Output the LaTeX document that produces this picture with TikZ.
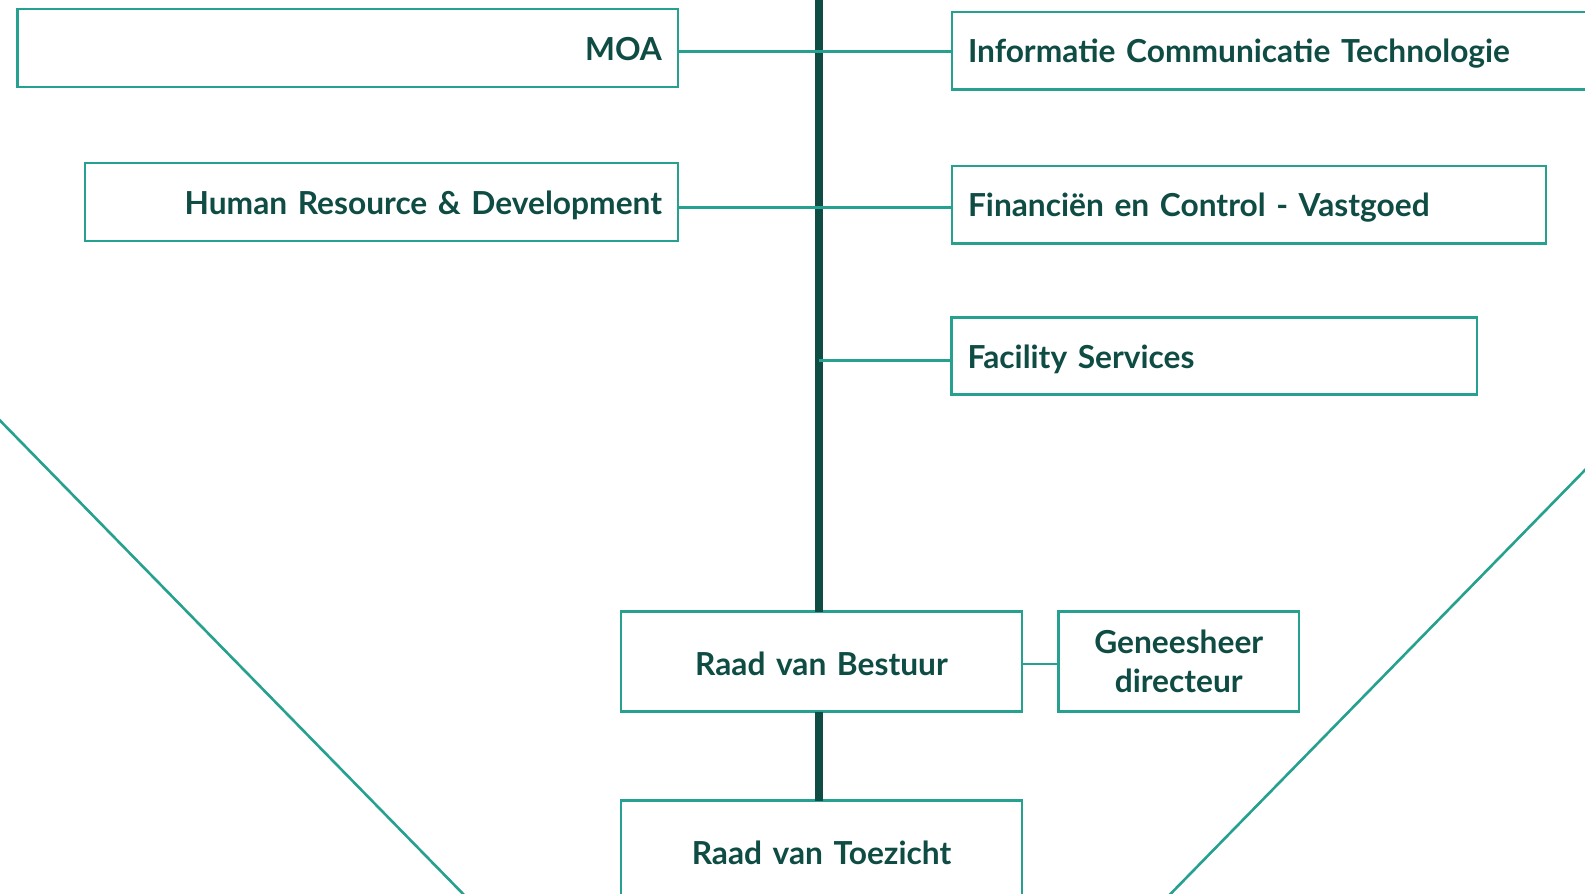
\documentclass[tikz,border=0pt]{standalone}
\usepackage{fontspec}
\setmainfont{Lato}
\definecolor{tealline}{HTML}{26A08F}
\definecolor{darkgreen}{HTML}{0E4C44}
\begin{document}
\begin{tikzpicture}[x=1pt,y=-1pt,
  box/.style={draw=tealline, line width=2.6pt, outer sep=0pt, inner xsep=16pt, inner ysep=0pt,
    font=\fontsize{31.7}{38.4}\selectfont\bfseries, text=darkgreen, anchor=north west},
  onel/.style={text height=28pt, text depth=4pt},
  onelb/.style={text height=31pt, text depth=4pt},
  conn/.style={draw=tealline, line width=2.6pt},
  spine/.style={draw=darkgreen, line width=7.5pt},
  diag/.style={draw=tealline, line width=2.6pt},
]
\useasboundingbox (0,0) rectangle (1585,894);
\clip (0,0) rectangle (1585,894);
\fill[white] (0,0) rectangle (1585,894);

% diagonals
\coordinate (la) at (-10,410.3);
\coordinate (lb) at (470,901);
\coordinate (ra) at (1595,459.8);
\coordinate (rb) at (1163.6,901);
\draw[diag] (la) -- (lb);
\draw[diag] (ra) -- (rb);

% boxes
\node[box,onel,minimum height=78pt,text width=628.5pt,align=right] (moa) at (17.5,9) {MOA};
\node[box,onel,minimum height=77.5pt,text width=716pt,align=left] (ict) at (952,12) {Informatie Communicatie Technologie};
\node[box,onel,minimum height=78pt,text width=561pt,align=right] (hrd) at (85,163) {Human Resource \& Development};
\node[box,onel,minimum height=77.5pt,text width=562pt,align=left] (fin) at (952,166) {Financiën en Control - Vastgoed};
\node[box,onel,minimum height=77pt,text width=493.5pt,align=left] (fac) at (951.5,317.5) {Facility Services};
\node[box,onelb,minimum height=100pt,text width=369pt,align=center] (rvb) at (621,611.5) {Raad van Bestuur};
\node[box,minimum height=100pt,text width=208.5pt,align=center] (gen) at (1058.5,611.5) {Geneesheer\\directeur};
\node[box,onelb,minimum height=100pt,text width=369pt,align=center] (rvt) at (621,800.5) {Raad van Toezicht};

% spine
\coordinate (top) at (819,-10);
\draw[spine] (top) -- (top |- rvb.north);
\draw[spine] (top |- rvb.south) -- (top |- rvt.north);

% connectors
\draw[conn] ([yshift=-1pt]ict.west -| moa.east) -- ([yshift=-1pt]ict.west);
\draw[conn] ([yshift=-2.5pt]fin.west -| hrd.east) -- ([yshift=-2.5pt]fin.west);
\draw[conn] ([yshift=-4.5pt]fac.west -| top) -- ([yshift=-4.5pt]fac.west);
\draw[conn] ([yshift=-2.5pt]rvb.east) -- ([yshift=-2.5pt]gen.west |- rvb.east);
\end{tikzpicture}
\end{document}
